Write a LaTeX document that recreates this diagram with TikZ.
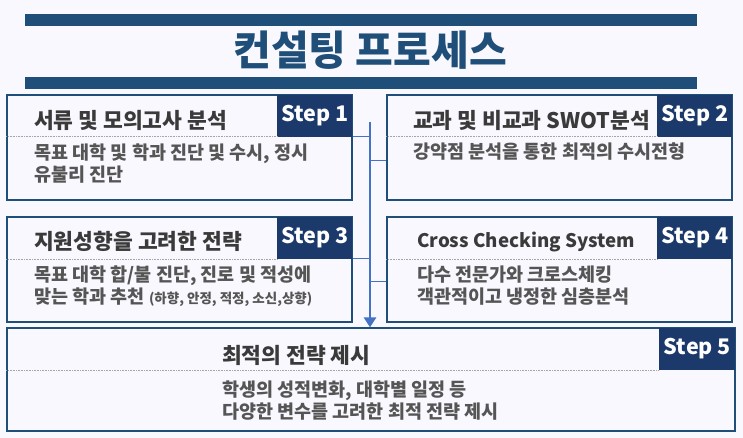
\documentclass[tikz,border=0pt]{standalone}
\usepackage{fontspec}
\setmainfont{Noto Sans CJK KR}
\usetikzlibrary{arrows.meta}

\definecolor{paper}{HTML}{F8F8FE}
\definecolor{navy}{HTML}{1F4E79}
\definecolor{tagblue}{HTML}{1B3A6B}
\definecolor{spineblue}{HTML}{4472C4}
\definecolor{headgray}{HTML}{3A3A3A}
\definecolor{bodygray}{HTML}{555555}

\tikzset{
  card/.style={draw=navy, line width=1.2pt, fill=paper, minimum width=345pt,
               minimum height=105pt, inner sep=0pt},
  steptag/.style={fill=tagblue, text=white, anchor=north east, minimum width=75pt,
                  minimum height=42pt, inner sep=0pt,
                  font=\fontsize{21.5}{25}\selectfont\bfseries},
  headtext/.style={anchor=west, text=headgray, inner sep=0pt,
                   font=\fontsize{21.5}{25}\selectfont\bfseries},
  bodytext/.style={anchor=north west, align=left, text=bodygray, inner sep=0pt,
                   font=\fontsize{18.5}{22}\selectfont\bfseries},
  sep/.style={gray!70, densely dotted, line width=0.6pt},
  link/.style={spineblue, line width=0.8pt},
  spine/.style={spineblue, line width=2.6pt, -{Triangle[length=10pt,width=12pt]}},
}

\begin{document}
\begin{tikzpicture}[x=1pt, y=-1pt]
  \fill[paper] (0,0) rectangle (743,438);
  \useasboundingbox (0,0) rectangle (743,438);

  % title with the two bars
  \fill[navy] (25,14) rectangle (697,26);
  \fill[navy] (25,77) rectangle (697,89);
  \node[text=navy, font=\fontsize{41}{46}\selectfont\bfseries] (title) at (370,50) {컨설팅 프로세스};

  % the five steps
  \node[card] (box1) at (179.5,147.5) {};
  \node[card] (box2) at (559.5,147.5) {};
  \node[card] (box3) at (179.5,269.5) {};
  \node[card] (box4) at (559.5,269.5) {};
  \node[card, minimum width=728pt, minimum height=103pt] (box5) at (371,379.5) {};

  \node[steptag] (tag1) at (box1.north east) {Step 1};
  \node[steptag] (tag2) at (box2.north east) {Step 2};
  \node[steptag] (tag3) at (box3.north east) {Step 3};
  \node[steptag] (tag4) at (box4.north east) {Step 4};
  \node[steptag, minimum width=76pt] (tag5) at (box5.north east) {Step 5};

  \draw[sep] (box1.west |- tag1.south) -- (tag1.south west);
  \draw[sep] (box2.west |- tag2.south) -- (tag2.south west);
  \draw[sep] (box3.west |- tag3.south) -- (tag3.south west);
  \draw[sep] (box4.west |- tag4.south) -- (tag4.south west);
  \draw[sep] (box5.west |- tag5.south) -- (tag5.south west);

  \node[headtext] (head1) at (34,120) {서류 및 모의고사 분석};
  \node[headtext] (head2) at (413,120) {교과 및 비교과 SWOT분석};
  \node[headtext] (head3) at (34,241) {지원성향을 고려한 전략};
  \node[headtext, font=\fontsize{18.7}{23}\selectfont\bfseries] (head4) at (417,242) {Cross Checking System};
  \node[headtext] (head5) at (222,355) {최적의 전략 제시};

  \node[bodytext] (body1) at (34,144) {목표 대학 및 학과 진단 및 수시, 정시\\유불리 진단};
  \node[bodytext] (body2) at (413,143) {강약점 분석을 통한 최적의 수시전형};
  \node[bodytext] (body3) at (34,266) {목표 대학 합/불 진단, 진로 및 적성에\\맞는 학과 추천 {\fontsize{13.5}{15}\selectfont(하향, 안정, 적정, 소신,상향)}};
  \node[bodytext] (body4) at (417,266) {다수 전문가와 크로스체킹\\객관적이고 냉정한 심층분석};
  \node[bodytext] (body5) at (222,381) {학생의 성적변화, 대학별 일정 등\\다양한 변수를 고려한 최적 전략 제시};

  % arrow down the middle, with its branches
  \coordinate (top) at (370,122);
  \coordinate (j2) at (370,160);
  \coordinate (j4) at (370,281);
  \draw[link] (tag1.south east) -- (tag1.south east -| top);
  \draw[link] (j2) -- (j2 -| box2.west);
  \draw[link] (tag3.south east) -- (tag3.south east -| top);
  \draw[link] (j4) -- (j4 -| box4.west);
  \draw[spine] (top) -- (top |- box5.north);
\end{tikzpicture}
\end{document}
